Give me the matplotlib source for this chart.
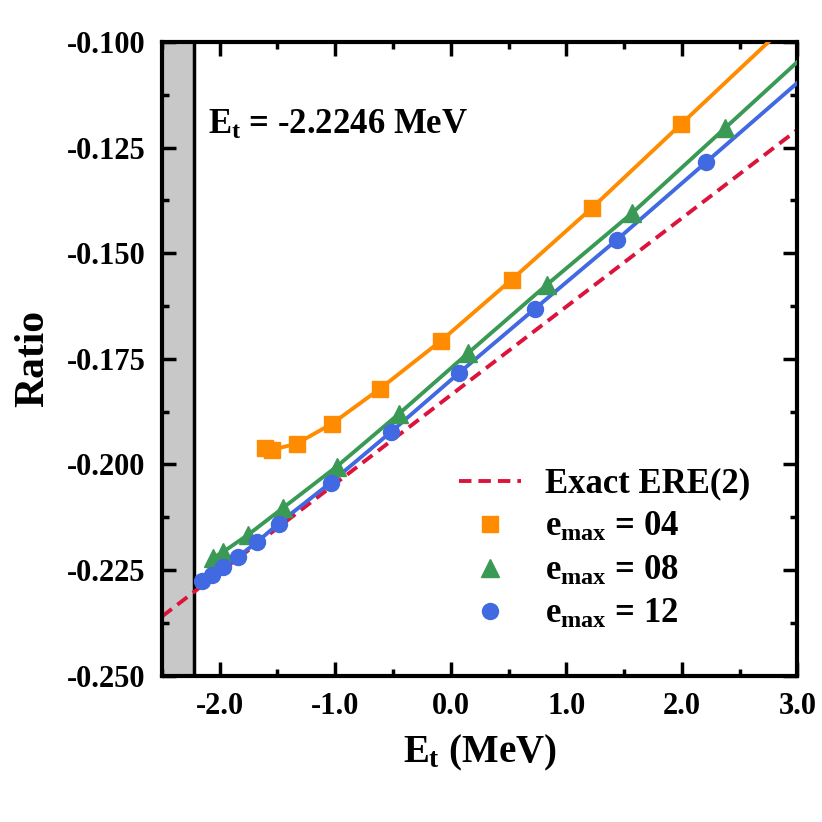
import numpy as np
import matplotlib.pyplot as plt
from matplotlib.ticker import MultipleLocator

plt.rcParams['font.family'] = ['Liberation Serif', 'DejaVu Serif']
plt.rcParams['font.weight'] = 'bold'
plt.rcParams['mathtext.fontset'] = 'custom'
plt.rcParams['mathtext.rm'] = 'Liberation Serif:bold'
plt.rcParams['mathtext.it'] = 'Liberation Serif:bold'
plt.rcParams['mathtext.bf'] = 'Liberation Serif:bold'

# deuteron binding energy
e_bind = -2.2246

# exact effective range expansion, second order
ere_x = [-2.5, 0.0, 3.0]
ere_y = [-0.2360, -0.1836, -0.1208]

# e_max = 04
x04 = [-1.604, -1.543, -1.335, -1.030, -0.613, -0.083, 0.526, 1.222, 1.996]
y04 = [-0.1960, -0.1965, -0.1951, -0.1904, -0.1821, -0.1707, -0.1563, -0.1393, -0.1194]

# e_max = 08
x08 = [-2.057, -1.970, -1.752, -1.448, -0.987, -0.448, 0.152, 0.830, 1.570, 2.378]
y08 = [-0.2221, -0.2207, -0.2166, -0.2102, -0.2005, -0.1880, -0.1736, -0.1575, -0.1405, -0.1203]

# e_max = 12
x12 = [-2.152, -2.065, -1.970, -1.839, -1.674, -1.491, -1.039, -0.517, 0.074, 0.726, 1.439, 2.213]
y12 = [-0.2277, -0.2261, -0.2242, -0.2218, -0.2183, -0.2140, -0.2043, -0.1923, -0.1783, -0.1632, -0.1468, -0.1284]

series = [
    (x04, y04, '#FF8C00', 's', '04'),
    (x08, y08, '#3A9A55', '^', '08'),
    (x12, y12, '#4169E1', 'o', '12'),
]

xmin, xmax = -2.5, 3.0

fig = plt.figure(figsize=(8.22, 8.22), dpi=100)
ax = fig.add_axes([0.197, 0.178, 0.773, 0.771])

ax.axvspan(xmin, e_bind, color='#C8C8C8', zorder=0)
ax.axvline(e_bind, color='black', lw=2.5, zorder=1)

ax.plot(ere_x, ere_y, color='#DC143C', ls='--', lw=2.8, dashes=(3.2, 1.8),
        label='Exact ERE(2)', zorder=2)

for xs, ys, col, mk, lab in series:
    # extend the curve linearly past the last point up to the frame
    slope = (ys[-1] - ys[-2]) / (xs[-1] - xs[-2])
    xl = list(xs) + [xmax]
    yl = list(ys) + [ys[-1] + slope * (xmax - xs[-1])]
    ax.plot(xl, yl, color=col, lw=2.8, zorder=3)
    ax.plot(xs, ys, color=col, marker=mk, ls='none', ms=13 if mk == '^' else 11.5,
            label=r'$e_{max}$ = ' + lab, zorder=4)

ax.set_xlim(xmin, xmax)
ax.set_ylim(-0.25, -0.10)
ax.xaxis.set_minor_locator(MultipleLocator(0.5))
ax.yaxis.set_minor_locator(MultipleLocator(0.0125))
ax.set_xticks([-2, -1, 0, 1, 2, 3])
ax.set_xticklabels(['-2.0', '-1.0', '0.0', '1.0', '2.0', '3.0'])
yt = np.arange(-0.25, -0.0999, 0.025)
ax.set_yticks(yt)
ax.set_yticklabels(['%.3f' % v for v in yt])

ax.tick_params(which='both', direction='in', top=True, right=True, width=2.5,
               labelsize=22, pad=12)
ax.tick_params(which='major', length=10)
ax.tick_params(which='minor', length=5)
for sp in ax.spines.values():
    sp.set_linewidth(3)

ax.set_xlabel(r'$E_t$ (MeV)', fontsize=28, fontweight='bold', labelpad=8)
ax.set_ylabel('Ratio', fontsize=30, fontweight='bold', labelpad=10)

ax.text(0.072, 0.855, r'$E_t$ = -2.2246 MeV', transform=ax.transAxes,
        fontsize=25, fontweight='bold')

ax.legend(loc='upper left', bbox_to_anchor=(0.445, 0.35), frameon=False,
          fontsize=25, handlelength=1.8, labelspacing=0.3, handletextpad=0.7,
          borderaxespad=0)

fig.savefig('out.png', dpi=100)
